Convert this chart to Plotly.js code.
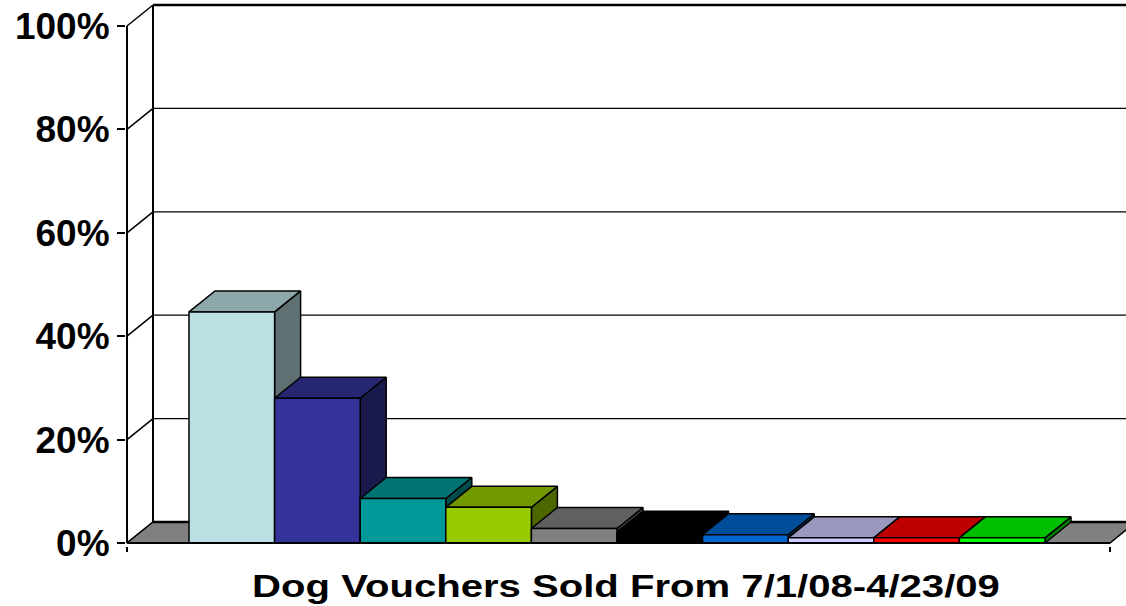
<!DOCTYPE html>
<html>
<head>
<meta charset="utf-8">
<script src="https://cdn.plot.ly/plotly-3.0.1.min.js"></script>
<style>
  html, body { margin: 0; padding: 0; background: #ffffff; }
  #chart { width: 1126px; height: 606px; }
</style>
</head>
<body>
<div id="chart"></div>
<script>
// ---- data ----
const categories = ['1', '2', '3', '4', '5', '6', '7', '8', '9', '10'];
const values = [44.7, 28.0, 8.6, 6.9, 2.8, 2.1, 1.6, 1.0, 1.0, 1.0];
const frontColors = ['#BBE0E3', '#333399', '#009999', '#99CC00', '#808080',
                     '#000000', '#0066CC', '#CCCCFF', '#FF0000', '#00FF00'];
const yTickVals = [0, 20, 40, 60, 80, 100];
const yTickText = ['0%', '20%', '40%', '60%', '80%', '100%'];
const xTitle = 'Dog Vouchers Sold From 7/1/08-4/23/09';

// ---- geometry of the 3-D frame (pixel scale of the axes) ----
const PXU = 85.6;          // px per category slot
const PYU = 5.17;          // px per percent
const DX = 26 / PXU;       // depth offset in x units
const DY = 21 / PYU;       // depth offset in y units
const XF = (127 - 189) / PXU;   // front vertical axis position
const XR = (1110 - 189) / PXU;  // right end of the floor (front)
const XMIN = (126 - 189) / PXU, XMAX = (1126 - 189) / PXU;
const YMIN = (543 - 546) / PYU, YMAX = 543 / PYU;
const TITLE_WIDTH = 748;   // rendered width of the stretched title

function shade(hex, f) {
  const n = parseInt(hex.slice(1), 16);
  const r = Math.round(((n >> 16) & 255) * f);
  const g = Math.round(((n >> 8) & 255) * f);
  const b = Math.round((n & 255) * f);
  return 'rgb(' + r + ',' + g + ',' + b + ')';
}
function poly(xs, ys, fill, lw) {
  return {
    type: 'scatter', mode: 'lines',
    x: xs.concat([xs[0]]), y: ys.concat([ys[0]]),
    fill: 'toself', fillcolor: fill,
    line: { color: '#000000', width: lw === undefined ? 1.5 : lw },
    hoverinfo: 'skip', showlegend: false
  };
}
function seg(xs, ys, lw) {
  return {
    type: 'scatter', mode: 'lines', x: xs, y: ys,
    line: { color: '#000000', width: lw },
    hoverinfo: 'skip', showlegend: false
  };
}

const traces = [];
// back wall gridlines
yTickVals.forEach(function (g) {
  if (g === 0) return;
  traces.push(seg([XF + DX, XMAX + 1], [g + DY, g + DY], g === 100 ? 2.5 : 1.2));
});
// back wall vertical edge
traces.push(seg([XF + DX, XF + DX], [DY, 100 + DY], 2));
// side wall diagonals
yTickVals.forEach(function (g) {
  traces.push(seg([XF, XF + DX], [g, g + DY], 1.5));
});
// floor
traces.push(poly([XF, XR, XR + DX, XF + DX], [0, 0, DY, DY], '#808080', 1.5));
traces.push(seg([XF + DX, XR + DX], [DY, DY], 2.5));

// bars (painted left to right)
values.forEach(function (v, i) {
  const c = frontColors[i];
  const x0 = i, x1 = i + 1;
  traces.push(Object.assign(poly([x1, x1 + DX, x1 + DX, x1], [0, DY, v + DY, v], shade(c, 0.5)), { name: categories[i] }));
  traces.push(Object.assign(poly([x0, x1, x1 + DX, x0 + DX], [v, v, v + DY, v + DY], shade(c, 0.75)), { name: categories[i] }));
  traces.push(Object.assign(poly([x0, x1, x1, x0], [0, 0, v, v], c), { name: categories[i] }));
});

// front axis lines
traces.push(seg([XF, XF], [0, 100], 2));
traces.push(seg([XF, XR], [0, 0], 2));

const layout = {
  width: 1126, height: 606,
  margin: { l: 126, r: 0, t: 0, b: 60, pad: 0 },
  paper_bgcolor: '#ffffff', plot_bgcolor: 'rgba(0,0,0,0)',
  showlegend: false,
  xaxis: {
    range: [XMIN, XMAX], showgrid: false, zeroline: false, showline: false,
    tickmode: 'array', tickvals: [XF, XR], showticklabels: false,
    ticks: 'outside', ticklen: 5, tickwidth: 1.5, tickcolor: '#000000',
    fixedrange: true,
    title: {
      text: xTitle, standoff: 23,
      font: { family: 'Liberation Sans, Arial, sans-serif', size: 32, weight: 'bold', color: '#000000' }
    }
  },
  yaxis: {
    range: [YMIN, YMAX], showgrid: false, zeroline: false, showline: false,
    tickmode: 'array', tickvals: yTickVals, ticktext: yTickText,
    ticks: 'outside', ticklen: 8, tickwidth: 2, tickcolor: '#000000',
    tickfont: { family: 'Liberation Sans, Arial, sans-serif', size: 37, weight: 'bold', color: '#000000' },
    fixedrange: true
  }
};

Plotly.newPlot('chart', traces, layout, { displayModeBar: false, staticPlot: true }).then(function (gd) {
  // the reference title is set in a horizontally stretched face
  const t = gd.querySelector('.g-xtitle text');
  if (t) {
    const bb = t.getBBox();
    const sx = TITLE_WIDTH / bb.width;
    const cx = bb.x + bb.width / 2;
    t.setAttribute('transform', 'translate(' + cx + ',0) scale(' + sx + ',1) translate(' + (-cx) + ',0)');
  }
});
</script>
</body>
</html>
